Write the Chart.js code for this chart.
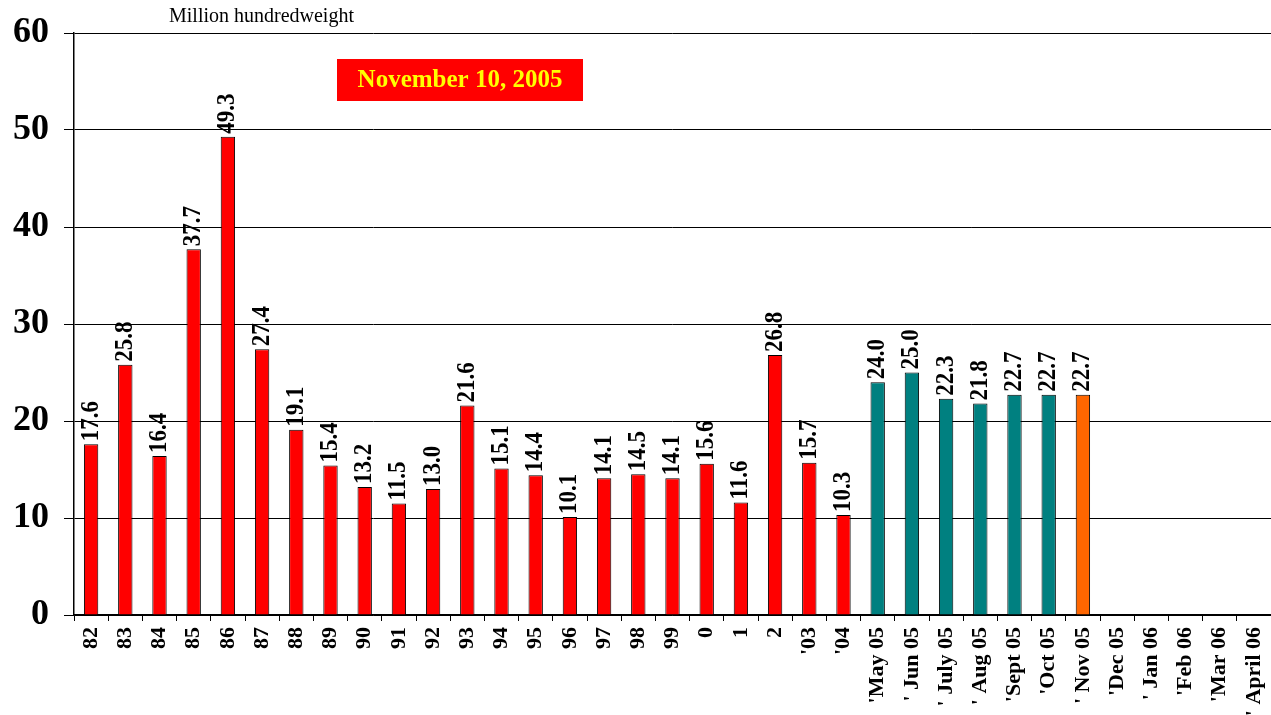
<!DOCTYPE html>
<html>
<head>
<meta charset="utf-8">
<script src="https://cdn.jsdelivr.net/npm/chart.js@4.4.0/dist/chart.umd.min.js"></script>
<style>
  html, body { margin: 0; padding: 0; background: #fff; }
  #wrap { width: 1271px; height: 715px; position: relative; }
</style>
</head>
<body>
<div id="wrap"><canvas id="myChart" width="1271" height="715"></canvas></div>
<script>
'use strict';
const labels = ['82', '83', '84', '85', '86', '87', '88', '89', '90', '91', '92', '93', '94', '95', '96', '97', '98', '99',
  '0', '1', '2', "'03", "'04",
  "'May 05", "' Jun 05", "' July 05", "' Aug 05", "'Sept 05", "'Oct 05", "' Nov 05",
  "'Dec 05", "' Jan 06", "'Feb 06", "'Mar 06", "' April 06"];
const values = [17.6, 25.8, 16.4, 37.7, 49.3, 27.4, 19.1, 15.4, 13.2, 11.5, 13.0, 21.6, 15.1, 14.4, 10.1, 14.1, 14.5, 14.1,
  15.6, 11.6, 26.8, 15.7, 10.3,
  24.0, 25.0, 22.3, 21.8, 22.7, 22.7, 22.7,
  null, null, null, null, null];
const yTicks = [0, 10, 20, 30, 40, 50, 60];
const yTitle = 'Million hundredweight';
const dateNote = 'November 10, 2005';

const serif = "'Liberation Serif', 'Times New Roman', serif";

// colours: annual history red, 2005 monthly teal, current month orange
const colors = labels.map((l, i) => {
  if (i === 29) return '#FF6600';
  if (i >= 23) return '#008080';
  return '#FF0000';
});

const barLabels = {
  id: 'barLabels',
  afterDatasetsDraw(chart) {
    const ctx = chart.ctx;
    const meta = chart.getDatasetMeta(0);
    ctx.save();
    ctx.font = 'bold 23px ' + serif;
    ctx.fillStyle = '#000';
    ctx.textAlign = 'left';
    ctx.textBaseline = 'middle';
    meta.data.forEach((bar, i) => {
      const v = values[i];
      if (v === null) return;
      ctx.save();
      ctx.translate(bar.x, bar.y - 3);
      ctx.rotate(-Math.PI / 2);
      ctx.scale(1, 1.1);
      ctx.fillText(v.toFixed(1), 0, 0);
      ctx.restore();
    });
    ctx.restore();
  }
};

const notes = {
  id: 'notes',
  afterDraw(chart) {
    const ctx = chart.ctx;
    ctx.save();
    ctx.fillStyle = '#000';
    ctx.font = '20px ' + serif;
    ctx.textAlign = 'left';
    ctx.textBaseline = 'alphabetic';
    ctx.fillText(yTitle, 169, 22);
    ctx.fillStyle = '#FF0000';
    ctx.fillRect(337, 59, 246, 42);
    ctx.fillStyle = '#FFFF00';
    ctx.font = 'bold 25px ' + serif;
    ctx.textAlign = 'center';
    ctx.textBaseline = 'middle';
    ctx.fillText(dateNote, 460, 81);
    ctx.restore();
  }
};

const ctx = document.getElementById('myChart').getContext('2d');
const myChart = new Chart(ctx, {
  type: 'bar',
  data: {
    labels: labels,
    datasets: [
      {
        data: values,
        backgroundColor: colors,
        borderColor: '#000',
        borderWidth: 1,
        borderSkipped: 'bottom',
        categoryPercentage: 1,
        barPercentage: 0.42,
      },
    ],
  },
  options: {
    responsive: false,
    animation: false,
    layout: { padding: { top: 33, right: 0, left: 0, bottom: 0 } },
    plugins: {
      legend: { display: false },
      tooltip: { enabled: false },
    },
    scales: {
      x: {
        afterFit(scale) {
          scale.height = 100;
          scale.paddingLeft = 0;
          scale.paddingRight = 0;
        },
        grid: {
          offset: true,
          drawOnChartArea: false,
          drawTicks: true,
          tickLength: 6,
          color: '#000',
          lineWidth: 1,
        },
        border: { color: '#000', width: 1.5 },
        ticks: {
          color: '#000',
          font: { family: serif, size: 22, weight: 'bold' },
          minRotation: 90,
          maxRotation: 90,
          autoSkip: false,
          padding: 6,
        },
      },
      y: {
        min: 0,
        max: 60,
        afterFit(scale) {
          scale.width = 74;
          scale.paddingTop = 0;
          scale.paddingBottom = 0;
        },
        afterBuildTicks(scale) { scale.ticks = yTicks.map(v => ({ value: v })); },
        grid: {
          color: '#000',
          lineWidth: 1,
          drawTicks: true,
          tickLength: 10,
        },
        border: { color: '#000', width: 1.5 },
        ticks: {
          color: '#000',
          font: { family: serif, size: 36, weight: 'bold' },
          padding: 15,
        },
      },
    },
  },
  plugins: [barLabels, notes],
});
</script>
</body>
</html>
